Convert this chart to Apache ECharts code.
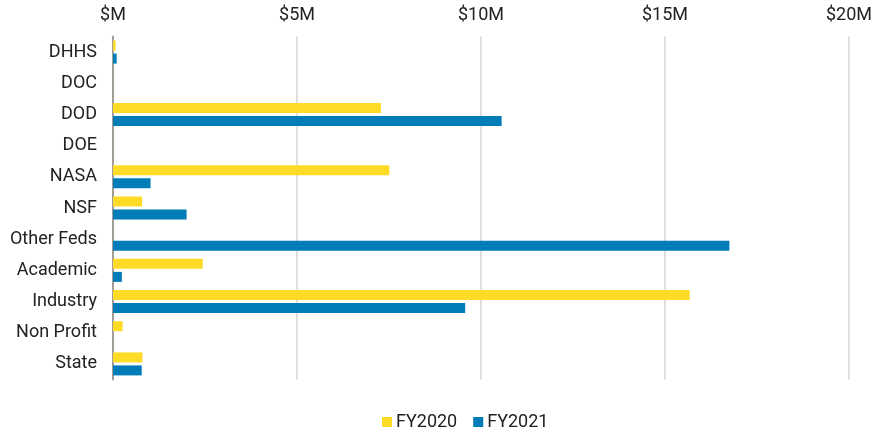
<!DOCTYPE html>
<html><head><meta charset="utf-8">
<script src="https://cdn.jsdelivr.net/npm/echarts@6/dist/echarts.min.js"></script>
<style>html,body{margin:0;padding:0;background:#fff}#c{width:883px;height:431px}</style>
</head><body><div id="c"></div>
<script>
const categories = ['DHHS','DOC','DOD','DOE','NASA','NSF','Other Feds','Academic','Industry','Non Profit','State'];
const fy2020 = [0.07, 0, 7.28, 0, 7.51, 0.79, 0, 2.44, 15.67, 0.26, 0.80];
const fy2021 = [0.10, 0, 10.56, 0, 1.02, 2.0, 16.75, 0.24, 9.57, 0, 0.78];
const xTicks = [0, 5, 10, 15, 20];

const chart = echarts.init(document.getElementById('c'));
chart.setOption({
  animation: false,
  textStyle: { fontFamily: 'Roboto' },
  grid: { left: 113, right: 34, top: 36.5, bottom: 51.5 },
  legend: {
    bottom: -5, left: 377, itemWidth: 10, itemHeight: 10, itemGap: 16,
    icon: 'rect',
    textStyle: { fontSize: 18, color: '#222', fontFamily: 'Roboto', padding: [0, 0, 0, -1] },
    data: ['FY2020','FY2021']
  },
  xAxis: {
    type: 'value', position: 'top', min: 0, max: 20, interval: 5,
    axisLine: { show: false }, axisTick: { show: false },
    axisLabel: { fontSize: 18, color: '#222', margin: 12,
      formatter: v => xTicks.includes(v) ? (v === 0 ? '$M' : '$' + v + 'M') : '' },
    splitLine: { lineStyle: { color: '#d4d4d4', width: 1.5 } }
  },
  yAxis: {
    type: 'category', data: categories, inverse: true,
    axisLine: { lineStyle: { color: '#a39d98', width: 2 } },
    axisTick: { show: false },
    axisLabel: { fontSize: 18, color: '#222', margin: 16 }
  },
  series: [
    { name: 'FY2020', type: 'bar', data: fy2020, barWidth: 10, barGap: '30%',
      itemStyle: { color: '#FDDB27' } },
    { name: 'FY2021', type: 'bar', data: fy2021, barWidth: 10,
      itemStyle: { color: '#007CB8' } }
  ]
});
</script></body></html>
